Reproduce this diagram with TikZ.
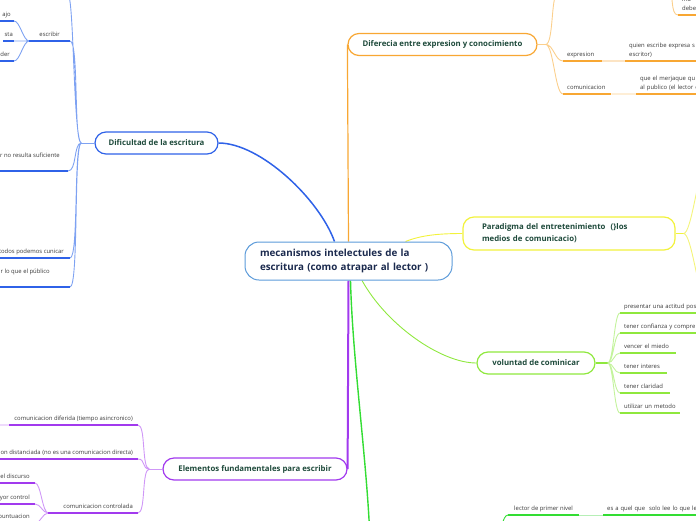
\documentclass[tikz,border=0pt]{standalone}
\usepackage{fontspec}
\setmainfont{Open Sans}
\usetikzlibrary{backgrounds}
\definecolor{maintext}{HTML}{1B2A4E}
\definecolor{mainline}{HTML}{5C9BDA}
\definecolor{topictext}{HTML}{1E4A3B}
\definecolor{leaftext}{HTML}{3A3A3A}
\definecolor{blueb}{HTML}{2F62E8}
\definecolor{bluel}{HTML}{7EA2F2}
\definecolor{orangeb}{HTML}{F8A733}
\definecolor{orangel}{HTML}{FBCF8C}
\definecolor{orangep}{HTML}{FCE4C4}
\definecolor{yellowb}{HTML}{F2F23C}
\definecolor{yellowl}{HTML}{F4F47A}
\definecolor{greenb}{HTML}{8FE83E}
\definecolor{greenl}{HTML}{C3F39C}
\definecolor{purpleb}{HTML}{A23AEE}
\definecolor{purplel}{HTML}{CF97F7}
\definecolor{limeb}{HTML}{33DD33}
\definecolor{limel}{HTML}{B6EFB6}
\begin{document}
\begin{tikzpicture}[x=1pt,y=-1pt,
  central/.style={draw=mainline,line width=1pt,fill=white,rounded corners=14pt,
    minimum height=38pt,inner xsep=15pt,text width=177pt,align=left,
    font=\bfseries\fontsize{9.8}{14}\selectfont,text=maintext},
  topic/.style={draw=#1,line width=1.2pt,fill=white,rounded corners=11pt,minimum height=22pt,
    inner sep=0pt,font=\bfseries\fontsize{7.8}{12}\selectfont,text=topictext},
  leaf/.style={font=\fontsize{5.9}{9}\selectfont,text=leaftext,inner xsep=4pt,inner ysep=3pt,text depth=1.5pt},
  lr/.style={leaf,anchor=south west,align=left},
  ll/.style={leaf,anchor=south east},
  under/.style={draw=#1,line width=1.8pt},
  link/.style={draw=#1,line width=0.9pt}]
  \useasboundingbox (0,0) rectangle (696,520);
  \node[central] (m) at (348.5,261) {mecanismos intelectules de la\\escritura (como atrapar al lector )};
  \node[topic=blueb,minimum width=123pt] (dific) at (156.5,143) {Dificultad de la escritura};
  \node[topic=orangeb,minimum width=189pt] (difer) at (442.5,44.5) {Diferecia entre expresion y conocimiento};
  \node[topic=yellowb,minimum height=33pt,inner xsep=19pt,text width=174pt,align=left] (parad) at (569,233.5)
    {Paradigma del entretenimiento~ (\}los\\medios de comunicacio)};
  \node[topic=greenb,minimum width=118pt] (volun) at (536,363) {voluntad de cominicar};
  \node[topic=purpleb,minimum width=184pt] (eleme) at (255,469) {Elementos fundamentales para escribir};

  \node[ll,inner xsep=10pt] (escr) at (70,41) {escribir};
  \node[ll,inner xsep=3pt] (ajo) at (14,21) {ajo};
  \node[ll,inner xsep=1pt] (sta) at (14,41) {sta};
  \node[ll,inner xsep=4pt] (der) at (14,61) {der};
  \node[ll,inner xsep=8pt,text depth=10.5pt] (sufi) at (68,171) {r no resulta suficiente};
  \node[ll,inner xsep=6pt] (cuni) at (70,258) {todos podemos cunicar};
  \node[ll,inner xsep=20pt,text depth=10.5pt] (publ) at (70,287) {r lo que el público};
  \coordinate (dtop) at (68,-5);

  \node[lr,text width=31pt] (expr) at (563,61) {expresion};
  \node[lr,text width=90pt,text depth=10.5pt] (quie) at (625,61) {quien escribe expresa s\\escritor)};
  \node[lr,text width=40pt] (comu) at (563,94) {comunicacion};
  \node[lr,text width=90pt,text depth=10.5pt] (quee) at (636,94) {que el merjaque qu\\al publico (el lector c};
  \node[lr,text width=40pt,text depth=10.5pt] (debe) at (678,15) {ma\\debe};
  \coordinate (otop) at (557,-5);
  \coordinate (otr) at (669,-8);

  \coordinate (ptop) at (704,170);
  \coordinate (pbot) at (704,295);

  \node[lr,text width=90pt] (pres) at (620,313) {presentar una actitud pos};
  \node[lr,text width=90pt] (conf) at (620,333) {tener confianza y compre};
  \node[lr,text width=48pt] (mied) at (620,353) {vencer el miedo};
  \node[lr,text width=39pt] (inte) at (620,373) {tener interes};
  \node[lr,text width=42pt] (clar) at (620,393) {tener claridad};
  \node[lr,text width=52pt] (meto) at (620,413) {utilizar un metodo};

  \node[ll,inner xsep=5pt] (dife) at (138,425) {comunicacion diferida (tiempo asincronico)};
  \node[ll,inner xsep=5pt] (dist) at (138,459) {on distanciada (no es una comunicacion directa)};
  \node[ll,inner xsep=5pt] (cont) at (138,513) {comunicacion controlada};
  \node[ll,inner xsep=5pt] (disc) at (35,483) {el discurso};
  \node[ll,inner xsep=5pt] (yorc) at (35,504) {yor control};
  \node[ll,inner xsep=5pt] (punt) at (35,523) {puntuacion};
  \coordinate (cj) at ([xshift=-10pt]cont.south west);
  \coordinate (dfl) at (-6,425);

  \node[lr,inner xsep=6pt] (prim) at (508,515) {lector de primer nivel};
  \node[lr,text width=90pt] (esaq) at (603,515) {es a quel que \ solo lee lo que le};
  \coordinate (lbot) at (370,540);
  \coordinate (lj) at (494,535);

  \begin{scope}[on background layer]
    \draw[link=blueb,line width=1.5pt] ([xshift=-14pt]m.north) .. controls +(-15,-42) and +(42,0) .. (dific.east);
    \coordinate (dj) at ([xshift=-13pt]dific.west);
    \draw[link=bluel] (dific.west) -- (dj);
    \draw[link=bluel] (dj) .. controls +(-8,0) and +(6,0) .. (dtop)
      (dj) .. controls +(-8,0) and +(9,0) .. (escr.south east)
      (dj) .. controls +(-8,0) and +(9,0) .. (sufi.south east)
      (dj) .. controls +(-8,0) and +(9,0) .. (cuni.south east)
      (dj) .. controls +(-8,0) and +(9,0) .. (publ.south east);
    \draw[link=bluel] (escr.south west) .. controls +(-6,0) and +(6,0) .. (ajo.south east)
      (escr.south west) -- (sta.south east)
      (escr.south west) .. controls +(-6,0) and +(6,0) .. (der.south east);
    \draw[under=blueb] (escr.south west) -- (escr.south east) (ajo.south west) -- (ajo.south east)
      (sta.south west) -- (sta.south east) (der.south west) -- (der.south east)
      (sufi.south west) -- (sufi.south east) (cuni.south west) -- (cuni.south east)
      (publ.south west) -- (publ.south east);

    \draw[link=orangeb,line width=1.2pt] (m.north) -- (difer.west);
    \coordinate (oj) at ([xshift=8pt]difer.east);
    \draw[link=orangel] (difer.east) -- (oj);
    \draw[link=orangel] (oj) .. controls +(8,0) and +(-6,0) .. (otop)
      (oj) .. controls +(8,0) and +(-8,0) .. (expr.south west)
      (oj) .. controls +(8,0) and +(-8,0) .. (comu.south west)
      (otr) .. controls +(5,0) and +(-8,0) .. (debe.south west)
      (comu.south east) -- (quee.south west);
    \draw[under=orangep] (expr.south east) -- (quie.south west);
    \draw[under=orangeb] (expr.south west) -- (expr.south east) (quie.south west) -- (quie.south east)
      (comu.south west) -- (comu.south east) (quee.south west) -- (quee.south east)
      (debe.south west) -- (debe.south east);

    \draw[link=yellowb] ([xshift=57pt]m.north) .. controls +(15,-6) and +(-25,0) .. (parad.west);
    \coordinate (pj) at ([xshift=8pt]parad.east);
    \draw[link=yellowb,line width=1.5pt] (parad.east) -- (pj);
    \draw[link=yellowl] (pj) .. controls +(8,0) and +(-6,0) .. (ptop)
      (pj) .. controls +(8,0) and +(-6,0) .. (pbot);

    \draw[link=greenb] ([xshift=13.5pt]m.south) .. controls +(25,45) and +(-35,0) .. (volun.west);
    \coordinate (vj) at ([xshift=12pt]volun.east);
    \draw[link=greenb,line width=1.5pt] (volun.east) -- (vj);
    \draw[link=greenl] (vj) .. controls +(6,0) and +(-6,0) .. (pres.south west)
      (vj) .. controls +(6,0) and +(-6,0) .. (conf.south west)
      (vj) .. controls +(6,0) and +(-6,0) .. (mied.south west)
      (vj) .. controls +(6,0) and +(-6,0) .. (inte.south west)
      (vj) .. controls +(6,0) and +(-6,0) .. (clar.south west)
      (vj) .. controls +(6,0) and +(-6,0) .. (meto.south west);
    \draw[under=greenb] (pres.south west) -- (pres.south east) (conf.south west) -- (conf.south east)
      (mied.south west) -- (mied.south east) (inte.south west) -- (inte.south east)
      (clar.south west) -- (clar.south east) (meto.south west) -- (meto.south east);

    \draw[link=purpleb,line width=2pt] (m.south) -- (eleme.east);
    \coordinate (ej) at ([xshift=-13pt]eleme.west);
    \draw[link=purplel] (eleme.west) -- (ej);
    \draw[link=purplel] (ej) .. controls +(-8,0) and +(8,0) .. (dife.south east)
      (ej) .. controls +(-8,0) and +(8,0) .. (dist.south east)
      (ej) .. controls +(-8,0) and +(8,0) .. (cont.south east)
      (dife.south west) -- (dfl)
      (cj) .. controls +(-6,0) and +(6,0) .. (disc.south east)
      (cj) .. controls +(-6,0) and +(6,0) .. (yorc.south east)
      (cj) .. controls +(-6,0) and +(6,0) .. (punt.south east);
    \draw[under=purpleb] (dife.south west) -- (dife.south east) (dist.south west) -- (dist.south east)
      (cj) -- (cont.south east) (disc.south west) -- (disc.south east)
      (yorc.south west) -- (yorc.south east) (punt.south west) -- (punt.south east);

    \draw[link=limeb,line width=1.4pt] ([xshift=2pt]m.south) .. controls +(2,80) and +(-3,-80) .. (lbot);
    \draw[link=limeb] (lj) .. controls +(8,0) and +(-6,0) .. (prim.south west);
    \draw[link=limel] (prim.south east) -- (esaq.south west);
    \draw[under=limeb] (prim.south west) -- (prim.south east) (esaq.south west) -- (esaq.south east);
  \end{scope}
\end{tikzpicture}
\end{document}
